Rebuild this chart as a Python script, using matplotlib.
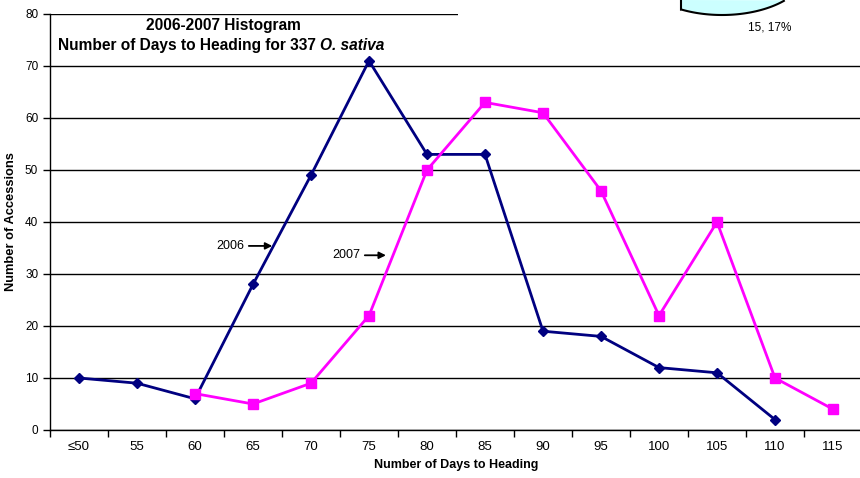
import numpy as np
import matplotlib
matplotlib.use("Agg")
import matplotlib.pyplot as plt
from matplotlib.patches import Polygon, Rectangle

plt.rcParams['font.family'] = ['Liberation Sans', 'DejaVu Sans']

categories = ["≤50", "55", "60", "65", "70", "75", "80", "85", "90", "95", "100", "105", "110", "115"]
days_2006 = [10, 9, 6, 28, 49, 71, 53, 53, 19, 18, 12, 11, 2]
days_2007 = [7, 5, 9, 22, 50, 63, 61, 46, 22, 40, 10, 4]
offset_2007 = 2  # 2007 series starts at the "60" category

W, H = 860, 478
fig = plt.figure(figsize=(W / 100, H / 100), dpi=100)
ax = fig.add_axes([50 / W, 48 / H, 812 / W, 416 / H])

x06 = np.arange(len(days_2006))
x07 = np.arange(len(days_2007)) + offset_2007
ax.plot(x06, days_2006, color="#000080", lw=2, marker="D", ms=5, zorder=3)
ax.plot(x07, days_2007, color="#FF00FF", lw=2, marker="s", ms=6.5, zorder=3)

ax.set_xlim(-0.5, len(categories) - 0.5)
ax.set_ylim(0, 80)
ax.set_yticks(range(0, 81, 10))
ax.set_xticks(np.arange(len(categories)))
ax.set_xticklabels(categories)
ax.set_xticks(np.arange(len(categories) + 1) - 0.5, minor=True)
ax.tick_params(axis="x", which="major", length=0, labelsize=9.5, pad=8)
ax.tick_params(axis="x", which="minor", length=5, width=1, direction="out")
ax.tick_params(axis="y", length=5, width=1, labelsize=8.5, direction="out")
ax.grid(axis="y", color="black", lw=1)
ax.set_axisbelow(True)
for s in ["top", "right"]:
    ax.spines[s].set_visible(False)
ax.spines["left"].set_linewidth(1)
ax.spines["bottom"].set_linewidth(1)

ax.set_xlabel("Number of Days to Heading", fontsize=9, fontweight="bold", labelpad=4)
ax.set_ylabel("Number of Accessions", fontsize=9.3, fontweight="bold", labelpad=6)

# title
fig.text(223 / W, 1 - 30 / H, "2006-2007 Histogram", fontsize=11.2, fontweight="bold",
         ha="center", va="baseline")
t1 = fig.text(58 / W, 1 - 50 / H, "Number of Days to Heading for 337 ", fontsize=11.2,
              fontweight="bold", ha="left", va="baseline")
fig.canvas.draw()
bb = t1.get_window_extent()
fig.text(bb.x1 / W, 1 - 50 / H, "O. sativa", fontsize=11.2, fontweight="bold",
         style="italic", ha="left", va="baseline")

# series labels
arrow = dict(arrowstyle="-|>", color="black", lw=1.3, mutation_scale=10)
ax.annotate("", xy=(3.38, 35.4), xytext=(2.88, 35.4), arrowprops=arrow)
ax.text(2.85, 35.4, "2006", fontsize=9, ha="right", va="center")
ax.annotate("", xy=(5.34, 33.6), xytext=(4.88, 33.6), arrowprops=arrow)
ax.text(4.85, 33.6, "2007", fontsize=9, ha="right", va="center")

# overlay: leftover pie fragment from the slide
ov = fig.add_axes([0, 0, 1, 1], zorder=5)
ov.set_xlim(0, W)
ov.set_ylim(H, 0)
ov.axis("off")
ov.add_patch(Rectangle((458, 0), W - 458, 20, facecolor="white", edgecolor="none"))
th = np.linspace(0, 2 * np.pi, 400)
ex = 722 + 85 * np.cos(th)
ey = -30 + 45 * np.sin(th)
keep = (ex >= 681) & (ey >= 0)
pts = np.column_stack([ex[keep], ey[keep]])
pts = pts[np.argsort(pts[:, 0])]
pts = np.vstack([[681, 0], [681, pts[0, 1]], pts])
ov.add_patch(Polygon(pts, closed=False, facecolor="#CCFFFF", edgecolor="black", lw=1.5))
ov.text(770, 27, "15, 17%", fontsize=8.5, ha="center", va="center")

fig.savefig("out.png", dpi=100)
